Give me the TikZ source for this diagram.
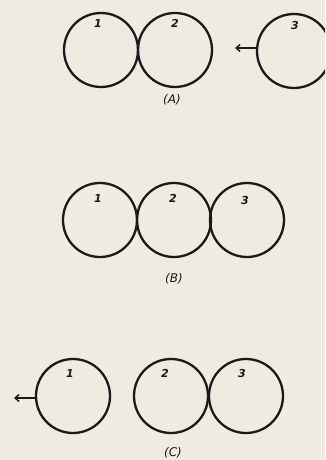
\documentclass[tikz,border=0pt]{standalone}
\usepackage{fontspec}
\setsansfont{DejaVu Sans}
\usetikzlibrary{arrows.meta}
\definecolor{paper}{HTML}{EFEBE0}
\definecolor{ink}{HTML}{1A1A1A}
\tikzset{
  ball/.style={circle, draw=ink, line width=2.3pt, minimum size=74pt, inner sep=0pt},
  num/.style={text=ink, font=\sffamily\bfseries\itshape\fontsize{11}{11}\selectfont, inner sep=0pt},
  figlabel/.style={text=ink, font=\sffamily\itshape\fontsize{12}{12}\selectfont, inner sep=0pt},
  push/.style={draw=ink, line width=1.5pt, -{Straight Barb[length=4pt,width=7pt]}}
}
\begin{document}
\begin{tikzpicture}[x=1pt,y=-1pt]
\fill[paper] (0,0) rectangle (325,460);
\clip (0,0) rectangle (325,460);
% (A)
\node[ball] (a1) at (101,50) {};
\node[ball] (a2) at (175,50) {};
\node[ball] (a3) at (294,51) {};
\node[num] (na1) at (98,23) {1};
\node[num] (na2) at (175,23) {2};
\node[num] (na3) at (295,25) {3};
\coordinate (aend) at (235,48);
\draw[push] (a3.west |- aend) -- (aend);
\node[figlabel] (la) at (172,100) {(A)};
% (B)
\node[ball] (b1) at (100,220) {};
\node[ball] (b2) at (174,220) {};
\node[ball] (b3) at (247,220) {};
\node[num] (nb1) at (98,198) {1};
\node[num] (nb2) at (173,198) {2};
\node[num] (nb3) at (245,200) {3};
\node[figlabel] (lb) at (174,279) {(B)};
% (C)
\node[ball] (c1) at (73,396) {};
\node[ball] (c2) at (171,396) {};
\node[ball] (c3) at (246,396) {};
\node[num] (nc1) at (70,373) {1};
\node[num] (nc2) at (165,373) {2};
\node[num] (nc3) at (242,373) {3};
\coordinate (cend) at (14,398);
\draw[push] (c1.west |- cend) -- (cend);
\node[figlabel] (lc) at (173,453) {(C)};
\end{tikzpicture}
\end{document}
